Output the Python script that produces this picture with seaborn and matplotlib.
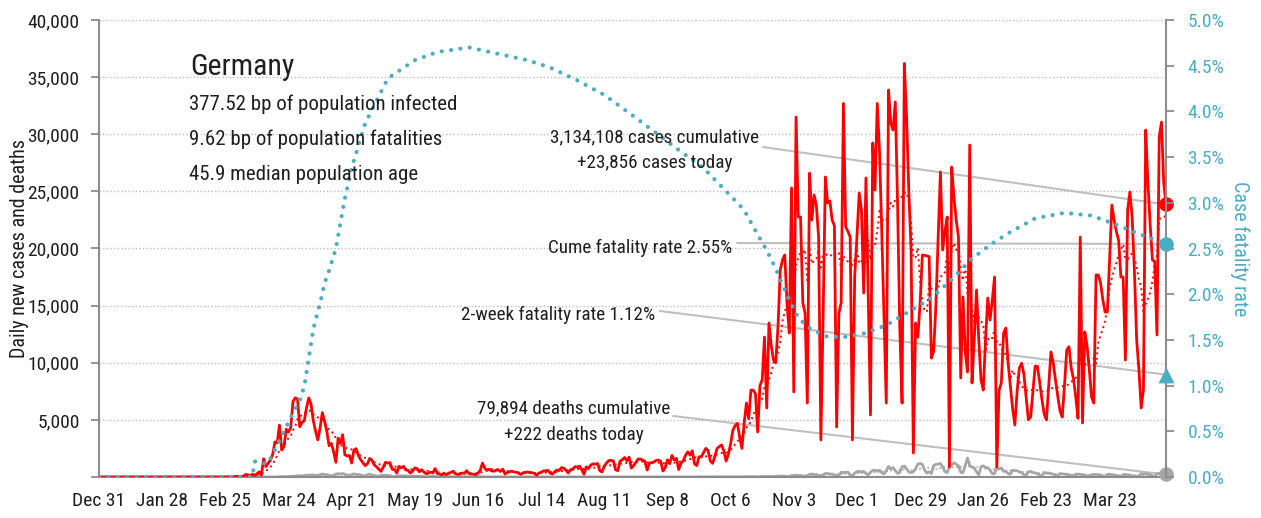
import numpy as np
import pandas as pd
import matplotlib
matplotlib.use("Agg")
import matplotlib.pyplot as plt
import matplotlib.dates as mdates
from matplotlib.patches import ConnectionPatch
from matplotlib import font_manager as fm
import seaborn as sns

# ---------------- data ----------------
start_date = "2019-12-31"

cases_dec19 = [0]
cases_jan20 = [0,0,0,0,0,0,0, 0,0,0,0,0,0,0, 0,0,0,0,0,0,0, 0,0,0,0,0,0, 4,0,0,1]
cases_feb20 = [3,2,2,0,0,0,1, 0,0,1,2,0,0,0, 0,0,0,0,0,0,0, 0,0,0,1,10,19,2, 31]
cases_mar20 = [51,29,37,66,220,188,129, 241,136,281,451,170,1597,910, 1210,1477,1985,3070,2993,4528,2365,
               2660,4183,3930,4337,6615,6933,6824, 4400,4790,4923]
cases_apr20 = [6064,6922,6365,4933,4031,3251,4289, 5633,4885,3990,2737,2946,2218,1287, 3394,2945,3699,1945,1842,1881,1226,
               2357,2481,1870,1514,1257,988,1154, 1627,1470]
cases_may20 = [1068,890,697,488,854,1284,1209, 1251,667,667,357,933,798,933, 620,583,342,513,797,745,460,
               638,431,289,342,432,353,741, 301,273,184]
cases_jun20 = [286,213,342,394,507,300,214, 264,350,318,555,301,259,247, 192,345,580,1220,770,601,687,
               537,503,587,630,477,687,256, 396,466]
cases_jul20 = [503,446,422,334,239,364,397, 442,395,378,310,159,359,397, 534,533,583,340,257,445,610,
               569,815,781,600,350,633,684, 902,870,955]
cases_aug20 = [641,240,879,741,1045,1147,1122, 1184,555,436,966,1226,1445,1449, 1415,625,561,1390,1510,1707,1427,
               1737,782,1000,1278,1576,1571,1479, 1379,610,1218]
cases_sep20 = [1256,1311,1453,1484,1378,524,813, 1499,1176,1892,1484,1630,650,1209, 1407,1901,2194,1916,2297,1143,1000,
               1769,1769,2143,2507,2321,1411,1192, 1798,2503]
cases_oct20 = [2673,2800,2300,1400,2000,2900,4100, 4500,4700,3500,2500,4700,6470,5100, 7600,7600,7300,3940,8000,8500,12250,
               6040,13480,11500,10240,10000,13130,18120, 19000,19430,15230]
cases_nov20 = [12600,25300,7440,31500,22760,22760,15230, 14350,6470,26600,22500,24680,23800,21000,
               3240,14000,26260,23980,24150,22500,22000, 4380,14350,15230,32700,21900,21500,21000, 3240,17500]
cases_dec20 = [21000,24860,23400,16100,26170,16000,5430, 29230,25120,32700,28500,21500,14000,6470,
               33870,31000,30370,32820,24000,13000,6470, 36200,31500,25000,19870,2100,13480,12250, 15230,19430,19400]
cases_jan21 = [19350,19300,10400,11000,15000,21000,26700, 19870,21500,22760,880,27130,24500,22500,
               21000,8670,15750,11000,9190,29060,8230, 12000,16370,12000,8500,7610,12000,15670, 13740,15500,17500]
cases_feb21 = [880,7600,8230,12600,13040,10000,8000, 6000,4550,7500,9540,9950,9000,7000,
               5000,5250,7500,9700,9700,8300,6800, 5500,5000,8000,10940,10000,8500,7100]
cases_mar21 = [5800,5250,8000,11120,11400,9500,8600, 7000,5130,21000,4730,12690,11500,9400,
               7000,6470,17680,17680,17000,15500,14440, 14440,19000,23800,22500,21500,20700,17500, 17500,10240,23370]
cases_apr21 = [24950,22760,18000,12000,9400,6040,7610, 30370,25730,22000,19000,18850,12430,29760, 31070,25730,23856]

deaths_dec19 = [0]
deaths_jan20 = [0,0,0,0,0,0,0, 0,0,0,0,0,0,0, 0,0,0,0,0,0,0, 0,0,0,0,0,0,0, 0,0,0]
deaths_feb20 = [0,0,0,0,0,0,0, 0,0,0,0,0,0,0, 0,0,0,0,0,0,0, 0,0,0,0,0,0,0, 0]
deaths_mar20 = [0,0,0,0,0,0,0, 0,2,0,1,0,4,1, 5,4,7,1,13,24,26, 28,32,46,49,61,84,108, 106,108,130]
deaths_apr20 = [156,178,168,174,140,126,200, 254,218,208,143,115,122,255, 301,248,315,233,166,110,194,
                281,215,227,179,99,110,202, 260,173]
deaths_may20 = [113,74,43,139,165,147,147, 118,26,28,94,116,101,89, 101,48,33,84,83,71,49,
                43,27,10,28,47,62,39, 37,19,11]
deaths_jun20 = [10,31,23,30,28,12,8, 10,26,35,21,14,7,2, 5,16,26,13,13,6,2, 7,12,12,13,7,5,1, 3,13]
deaths_jul20 = [12,6,6,2,1,5,9, 12,6,7,3,0,4,4, 5,4,3,2,0,7,7, 5,7,6,0,0,2,7, 6,11,7]
deaths_aug20 = [8,0,3,7,6,9,7, 1,0,6,7,6,6,3, 2,0,4,5,12,11,7, 4,0,10,6,5,11,7, 1,2,5]
deaths_sep20 = [10,6,4,4,3,0,6, 7,12,11,7,2,1,6, 9,7,12,11,5,0,7, 19,7,14,13,4,5,14, 17,12]
deaths_oct20 = [11,12,8,4,16,16,17, 9,13,8,7,13,27,33, 18,33,18,11,18,48,39, 45,49,29,28,55,64,89, 84,70,47]
deaths_nov20 = [40,119,147,159,118,131,96, 61,135,221,266,210,217,112, 122,182,305,305,260,254,179,
                110,181,410,390,423,422,161, 125,314]
deaths_dec20 = [487,479,440,490,290,188,400, 585,590,523,598,380,263,547, 919,698,815,549,321,400,898,
                962,698,440,381,454,720,1129, 1188,1100,600]
deaths_jan21 = [350,456,300,1000,1108,1127,1188, 900,465,380,891,1060,1244,1113, 983,400,380,1000,1660,1000,859,
                800,450,200,900,980,839,800, 600,300,280]
deaths_feb21 = [900,700,800,500,500,300,250, 600,550,550,450,400,200,150, 450,500,400,350,300,150,100,
                400,350,350,300,250,150,100]
deaths_mar21 = [300,270,250,230,200,120,80, 250,250,230,200,180,90,60, 200,230,220,200,180,80,60,
                230,240,200,180,140,70,60, 200,220,180]
deaths_apr21 = [180,100,80,60,50,300,250, 280,250,180,80,60,290,310, 260,240,222]

cfr_dates = ["2019-12-31", "2020-03-08", "2020-03-09", "2020-03-12", "2020-03-15", "2020-03-18", "2020-03-23",
             "2020-03-26", "2020-03-29", "2020-03-31", "2020-04-02", "2020-04-04", "2020-04-07", "2020-04-09",
             "2020-04-11", "2020-04-14", "2020-04-18", "2020-04-21", "2020-04-27", "2020-05-07", "2020-05-19",
             "2020-05-29", "2020-06-12", "2020-06-23", "2020-07-08", "2020-07-18", "2020-07-30", "2020-08-11",
             "2020-08-25", "2020-09-09", "2020-09-24", "2020-10-09", "2020-10-12", "2020-10-18", "2020-10-22",
             "2020-10-26", "2020-10-31", "2020-11-05", "2020-11-10", "2020-11-17", "2020-11-25", "2020-12-04",
             "2020-12-14", "2020-12-24", "2021-01-03", "2021-01-12", "2021-01-20", "2021-01-29", "2021-02-07",
             "2021-02-18", "2021-03-03", "2021-03-15", "2021-03-25", "2021-04-05", "2021-04-17"]
cfr_values = [0.0, 0.0, 0.17, 0.15, 0.15, 0.30, 0.55,
              0.70, 0.84, 0.99, 1.30, 1.62, 1.90, 2.12,
              2.26, 2.50, 3.05, 3.38, 3.87, 4.36, 4.56,
              4.65, 4.70, 4.64, 4.56, 4.48, 4.34, 4.18,
              3.93, 3.65, 3.38, 3.00, 2.92, 2.65, 2.48,
              2.28, 1.99, 1.74, 1.63, 1.54, 1.53, 1.57,
              1.66, 1.81, 1.96, 2.16, 2.37, 2.54, 2.68,
              2.83, 2.89, 2.86, 2.77, 2.66, 2.55]

cases_today = 23856
deaths_today = 222
cume_cfr = 2.55
two_week_cfr = 1.12

tick_dates = ["2019-12-31", "2020-01-28", "2020-02-25", "2020-03-24", "2020-04-21", "2020-05-19", "2020-06-16",
              "2020-07-14", "2020-08-11", "2020-09-08", "2020-10-06", "2020-11-03", "2020-12-01", "2020-12-29",
              "2021-01-26", "2021-02-23", "2021-03-23"]
tick_labels = ["Dec 31", "Jan 28", "Feb 25", "Mar 24", "Apr 21", "May 19", "Jun 16", "Jul 14", "Aug 11",
               "Sep 8", "Oct 6", "Nov 3", "Dec 1", "Dec 29", "Jan 26", "Feb 23", "Mar 23"]
left_ticks = [0, 5000, 10000, 15000, 20000, 25000, 30000, 35000, 40000]
right_ticks = [0.0, 0.5, 1.0, 1.5, 2.0, 2.5, 3.0, 3.5, 4.0, 4.5, 5.0]

title = "Germany"
stats_lines = ["377.52 bp of population infected", "9.62 bp of population fatalities", "45.9 median population age"]

# ---------------- style ----------------
sns.set_theme(style="white")

names = {f.name for f in fm.fontManager.ttflist}
chosen, stretch = None, "normal"
for cand in ["Roboto Condensed", "Liberation Sans Narrow", "Open Sans Condensed", "Noto Sans Condensed",
             "Arial Narrow", "DejaVu Sans Condensed"]:
    if cand in names:
        chosen = cand
        break
if chosen is None:
    for fam in ["Noto Sans", "Open Sans", "Roboto"]:
        if any(f.name == fam and f.stretch in ("condensed", "semi-condensed", "extra-condensed") for f in fm.fontManager.ttflist):
            chosen, stretch = fam, "condensed"
            break
if chosen is None:
    chosen = "Roboto"
plt.rcParams["font.family"] = [chosen, "DejaVu Sans"]
plt.rcParams["font.stretch"] = stretch

RED = "#FF0000"
TEAL = "#4BACC6"
GREY = "#A6A6A6"
LINEGREY = "#BFBFBF"
SPINE = "#8C8C8C"
TXT = "#1F1F1F"

# ---------------- frames ----------------
cases = (cases_dec19 + cases_jan20 + cases_feb20 + cases_mar20 + cases_apr20 + cases_may20 + cases_jun20 +
         cases_jul20 + cases_aug20 + cases_sep20 + cases_oct20 + cases_nov20 + cases_dec20 + cases_jan21 +
         cases_feb21 + cases_mar21 + cases_apr21)
deaths = (deaths_dec19 + deaths_jan20 + deaths_feb20 + deaths_mar20 + deaths_apr20 + deaths_may20 + deaths_jun20 +
          deaths_jul20 + deaths_aug20 + deaths_sep20 + deaths_oct20 + deaths_nov20 + deaths_dec20 + deaths_jan21 +
          deaths_feb21 + deaths_mar21 + deaths_apr21)
n = min(len(cases), len(deaths))
df = pd.DataFrame({"date": pd.date_range(start_date, periods=n, freq="D"),
                   "cases": cases[:n], "deaths": deaths[:n]})
df["cases_7d"] = df["cases"].rolling(7, min_periods=1).mean()
df["deaths_7d"] = df["deaths"].rolling(7, min_periods=1).mean()
cfr_df = pd.DataFrame({"date": pd.to_datetime(cfr_dates), "cfr": cfr_values})
last_date = df["date"].iloc[-1]

W, H = 1261, 518
fig = plt.figure(figsize=(W / 100, H / 100), dpi=100)
fig.patch.set_facecolor("white")
ax = fig.add_axes([99 / W, 1 - 477 / H, 1067 / W, 457 / H])
ax2 = ax.twinx()

# grid
ax.set_axisbelow(True)
ax.yaxis.grid(True, linestyle=(0, (1, 1.6)), color="#BDBDBD", linewidth=1.0)
ax.xaxis.grid(False)
ax2.grid(False)

# lines
sns.lineplot(data=df, x="date", y="deaths", ax=ax, color=GREY, linewidth=2.0, errorbar=None, zorder=2)
sns.lineplot(data=df, x="date", y="deaths_7d", ax=ax, color=GREY, linewidth=1.2, errorbar=None,
             linestyle=(0, (1, 1.5)), zorder=2)
sns.lineplot(data=df, x="date", y="cases", ax=ax, color=RED, linewidth=2.0, errorbar=None, zorder=3)
sns.lineplot(data=df, x="date", y="cases_7d", ax=ax, color=RED, linewidth=1.4, errorbar=None,
             linestyle=(0, (1, 1.8)), zorder=3)
sns.lineplot(data=cfr_df, x="date", y="cfr", ax=ax2, color=TEAL, linewidth=3.0, errorbar=None,
             linestyle=(0, (0.01, 2.25)), dash_capstyle="round", zorder=3)

# end markers
sns.scatterplot(x=[last_date], y=[cases_today], ax=ax, color=RED, s=110, edgecolor=RED, linewidth=0,
                zorder=6, clip_on=False, legend=False)
sns.scatterplot(x=[last_date], y=[deaths_today], ax=ax, color=GREY, s=110, edgecolor=GREY, linewidth=0,
                zorder=6, clip_on=False, legend=False)
sns.scatterplot(x=[last_date], y=[cume_cfr], ax=ax2, color=TEAL, s=110, edgecolor=TEAL, linewidth=0,
                zorder=6, clip_on=False, legend=False)
sns.scatterplot(x=[last_date], y=[two_week_cfr], ax=ax2, color=TEAL, marker="^", s=130, edgecolor=TEAL,
                linewidth=0, zorder=6, clip_on=False, legend=False)

# axes limits and ticks
ax.set_xlim(df["date"].iloc[0], last_date)
ax.set_ylim(0, 40000)
ax2.set_ylim(0, 5)
ax.set_xticks(pd.to_datetime(tick_dates))
ax.set_xticklabels(tick_labels)
ax.set_yticks(left_ticks)
ax.set_yticklabels(["" if v == 0 else f"{v:,}" for v in left_ticks])
ax2.set_yticks(right_ticks)
ax2.set_yticklabels([f"{v:.1f}%" for v in right_ticks])

ax.set_xlabel("")
ax.set_ylabel("Daily new cases and deaths", fontsize=14.5, color=TXT)
ax.yaxis.set_label_coords(-0.0655, 0.5)
ax2.set_ylabel("Case fatality rate", fontsize=14.5, color=TEAL, rotation=270, va="bottom")
ax2.yaxis.set_label_coords(1.06, 0.5)

ax.tick_params(axis="x", direction="out", length=6, width=1.3, color=SPINE, labelsize=14, labelcolor=TXT, pad=5)
ax.tick_params(axis="y", direction="out", length=6, width=1.3, color=SPINE, labelsize=14, labelcolor=TXT, pad=8,
               left=True, right=False)
ax2.tick_params(axis="y", direction="out", length=6, width=1.3, color=SPINE, labelsize=14, labelcolor=TEAL, pad=9.5,
                right=True, left=False)

for a in (ax, ax2):
    a.spines["top"].set_visible(False)
    for s in ("left", "right", "bottom"):
        a.spines[s].set_color(SPINE)
        a.spines[s].set_linewidth(1.5)
ax2.spines["left"].set_visible(False)
ax2.spines["bottom"].set_visible(False)
ax.spines["right"].set_visible(False)

# annotation connector lines (text anchor in axes fraction -> end marker in data)
def connect(xy_frac, xy_data, trans):
    con = ConnectionPatch(xyA=xy_frac, coordsA=ax.transAxes, xyB=xy_data, coordsB=trans,
                          color=LINEGREY, linewidth=1.5, zorder=1.5, clip_on=False)
    ax.add_artist(con)

ld = mdates.date2num(last_date)
connect((0.6223, 0.7221), (ld, cases_today), ax.transData)
connect((0.5980, 0.5120), (ld, cume_cfr), ax2.transData)
connect((0.5258, 0.3632), (ld, two_week_cfr), ax2.transData)
connect((0.5380, 0.1335), (ld, deaths_today), ax.transData)

# texts (pixel positions)
def ftext(x, y, s, **kw):
    fig.text(x / W, 1 - y / H, s, va="baseline", color=TXT, **kw)

ftext(190, 75, title, fontsize=21.5, ha="left")
for yy, s in zip([110, 145, 180], stats_lines):
    ftext(189, yy, s, fontsize=15, ha="left")

AF = 13.8
ftext(655, 142.7, "3,134,108 cases cumulative", fontsize=AF, ha="center")
ftext(655, 168, "+23,856 cases today", fontsize=AF, ha="center")
ftext(732, 253, "Cume fatality rate 2.55%", fontsize=AF, ha="right")
ftext(655, 320, "2-week fatality rate 1.12%", fontsize=AF, ha="right")
ftext(574, 413, "79,894 deaths cumulative", fontsize=AF, ha="center")
ftext(574, 440, "+222 deaths today", fontsize=AF, ha="center")

fig.savefig("out.png", dpi=100, facecolor="white")
